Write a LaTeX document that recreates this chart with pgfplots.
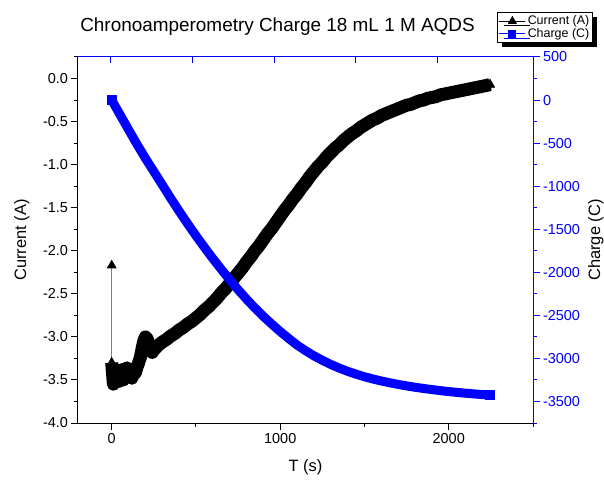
\documentclass[border=0pt]{standalone}
\usepackage{fontspec}
\setmainfont{Liberation Sans}
\usepackage{pgfplots}
\pgfplotsset{compat=1.18}
\usetikzlibrary{shadows}

% current (A) vs time (s)
\pgfplotstableread{
t I
0 -3.30
10 -3.55
20 -3.48
30 -3.40
40 -3.52
50 -3.45
60 -3.38
70 -3.50
80 -3.42
90 -3.36
100 -3.46
110 -3.40
120 -3.48
130 -3.38
140 -3.42
150 -3.35
160 -3.30
170 -3.24
180 -3.14
190 -3.05
200 -3.00
210 -3.02
220 -3.08
230 -3.16
240 -3.18
250 -3.15
275 -3.10
300 -3.06
325 -3.03
350 -2.99
375 -2.96
400 -2.92
425 -2.89
450 -2.85
475 -2.82
500 -2.78
525 -2.74
550 -2.69
575 -2.65
600 -2.60
625 -2.55
650 -2.49
675 -2.44
700 -2.38
725 -2.32
750 -2.26
775 -2.20
800 -2.13
825 -2.07
850 -2.00
875 -1.94
900 -1.87
925 -1.80
950 -1.74
975 -1.67
1000 -1.60
1025 -1.53
1050 -1.47
1075 -1.40
1100 -1.34
1125 -1.27
1150 -1.21
1175 -1.14
1200 -1.08
1225 -1.02
1250 -0.97
1275 -0.91
1300 -0.86
1325 -0.81
1350 -0.77
1375 -0.72
1400 -0.68
1425 -0.64
1450 -0.61
1475 -0.57
1500 -0.54
1525 -0.51
1550 -0.48
1575 -0.46
1600 -0.43
1625 -0.41
1650 -0.39
1675 -0.37
1700 -0.35
1725 -0.33
1750 -0.31
1775 -0.30
1800 -0.28
1825 -0.26
1850 -0.25
1875 -0.23
1900 -0.22
1925 -0.21
1950 -0.19
1975 -0.18
2000 -0.17
2025 -0.16
2050 -0.15
2075 -0.14
2100 -0.13
2125 -0.12
2150 -0.11
2175 -0.10
2200 -0.09
2225 -0.08
2245 -0.07
}\currenttable

% charge (C) vs time (s)
\pgfplotstableread{
t Q
0 0
50 -172
100 -344
150 -514
200 -676
250 -830
300 -984
350 -1140
400 -1290
450 -1435
500 -1575
550 -1710
600 -1840
650 -1965
700 -2086
750 -2202
800 -2312
850 -2415
900 -2512
950 -2602
1000 -2688
1050 -2768
1100 -2845
1150 -2910
1200 -2970
1250 -3022
1300 -3070
1350 -3112
1400 -3150
1450 -3183
1500 -3213
1550 -3239
1600 -3262
1650 -3283
1700 -3302
1750 -3319
1800 -3335
1850 -3349
1900 -3362
1950 -3374
2000 -3385
2050 -3395
2100 -3404
2150 -3412
2200 -3420
2245 -3427
}\chargetable

\begin{document}
\begin{tikzpicture}
\useasboundingbox (-78bp,-59bp) rectangle (526bp,423bp);
\pgfplotsset{
  every axis/.append style={
    width=455bp, height=366bp, scale only axis,
    xmin=-200, xmax=2500,
    tick align=outside,
    major tick length=6.5bp, minor tick length=3.5bp,
    tick label style={font=\fontsize{14.5}{17}\selectfont},
    label style={font=\fontsize{16.5}{19}\selectfont},
    /pgf/number format/assume math mode=true,
    /pgf/number format/set thousands separator={},
  }
}
\begin{axis}[
  axis x line*=bottom, axis y line*=left,
  axis line style={line width=1bp},
  every tick/.style={black, line width=1bp},
  ymin=-4, ymax=0.25,
  xtick={0,1000,2000}, minor xtick={500,1500,2500},
  ytick={-4,-3.5,-3,-2.5,-2,-1.5,-1,-0.5,0},
  minor ytick={-3.75,-3.25,-2.75,-2.25,-1.75,-1.25,-0.75,-0.25,0.25},
  yticklabel style={/pgf/number format/.cd, fixed, fixed zerofill, precision=1},
  xlabel={T (s)}, ylabel={Current (A)},
  xlabel style={at={(axis description cs:0.5,-0.1202)}, anchor=center},
  ylabel style={at={(axis description cs:-0.1231,0.5)}, anchor=center},
  title={Chronoamperometry Charge 18 mL 1 M AQDS},
  title style={font=\fontsize{19}{22}\selectfont, at={(axis description cs:0.4385,1.0656)}, anchor=center},
]
\addplot[black!50, line width=0.7bp, mark=triangle*, mark size=5bp,
  mark options={black, solid}, mark indices={1}] coordinates {(0,-2.17) (0,-3.30)};
\addplot[black, line width=13bp, line join=round, mark=triangle*, mark size=5.5bp,
  mark options={line width=0.4bp}] table[x=t, y=I] {\currenttable};
\end{axis}

\begin{axis}[
  axis x line*=top, axis y line*=right,
  axis line style={blue, line width=1bp},
  every tick/.style={blue, line width=1bp},
  ymin=-3750, ymax=500,
  xtick={-6,482,964,1446,1935}, xticklabels={}, xtick align=inside,
  ytick={-3500,-3000,-2500,-2000,-1500,-1000,-500,0,500},
  minor ytick={-3750,-3250,-2750,-2250,-1750,-1250,-750,-250,250},
  yticklabel style={blue},
  ylabel={Charge (C)},
  ylabel style={at={(axis description cs:1.138,0.5)}, anchor=center},
  legend style={at={(0.921,1.123)}, anchor=north west, draw=black, fill=white,
    line width=0.8bp, font=\fontsize{12.5}{14}\selectfont,
    drop shadow={shadow xshift=4.5bp, shadow yshift=-4.5bp, opacity=1, fill=black},
    inner sep=1.5bp, row sep=-2bp, cells={anchor=west}},
  legend image code/.code={\draw[mark repeat=2, mark phase=2]
    plot coordinates {(0bp,0bp) (13bp,0bp) (26bp,0bp)};},
]
\addlegendimage{black, line width=0.8bp, mark=triangle*, mark size=4.5bp}
\addlegendentry{Current (A)}
\addlegendimage{blue, line width=0.8bp, mark=square*, mark size=3.5bp}
\addlegendentry{Charge (C)}
\addplot[blue, line width=9bp, line join=round, mark=square*, mark size=4.5bp,
  mark indices={1,46}, mark options={line width=0.4bp}, forget plot]
  table[x=t, y=Q] {\chargetable};
\end{axis}
\end{tikzpicture}
\end{document}
